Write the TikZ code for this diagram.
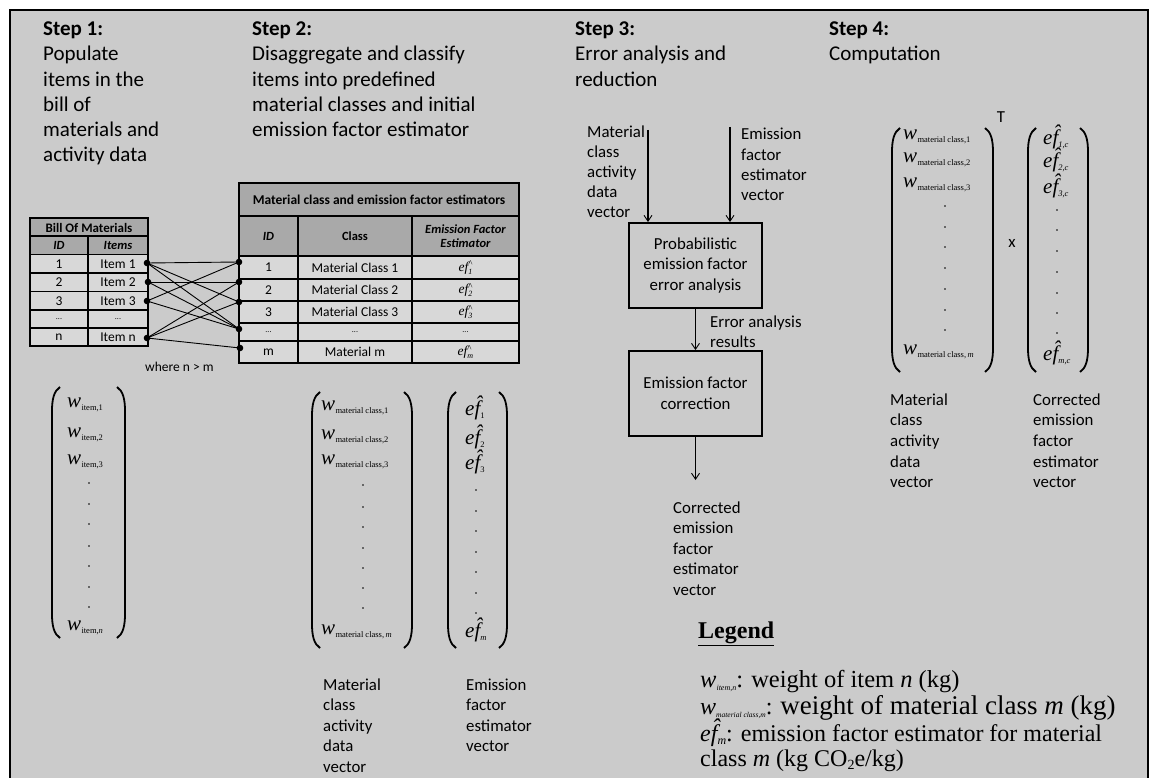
\documentclass[tikz,border=0pt]{standalone}
\usepackage{fontspec}
\setmainfont{Carlito}
\newfontfamily\serif{Liberation Serif}
\usetikzlibrary{arrows.meta}
\definecolor{bg}{HTML}{CBCBCB}
\definecolor{hdr}{HTML}{A9A9A9}
\definecolor{cell}{HTML}{D8D8D8}
\newcommand\vbrack[4]{%
  \draw[brk] (#1+8,#3) .. controls (#1+2,#3+4) and (#1,#3+12) .. (#1,#3+24) -- (#1,#4-24) .. controls (#1,#4-12) and (#1+2,#4-4) .. (#1+8,#4);
  \draw[brk] (#2-8,#3) .. controls (#2-2,#3+4) and (#2,#3+12) .. (#2,#3+24) -- (#2,#4-24) .. controls (#2,#4-12) and (#2-2,#4-4) .. (#2-8,#4);
}
\newcommand\wsub[1]{{\serif\fontsize{21}{21}\selectfont\itshape w}\kern0.3pt\raisebox{-2.5pt}{\serif\fontsize{8.5}{8.5}\selectfont #1}}
\newcommand\efh[1]{{\serif\fontsize{21}{21}\selectfont\itshape e\^{f}}\raisebox{-3pt}{\serif\fontsize{8.5}{8.5}\selectfont\itshape #1}}
\newcommand\eft[1]{{\serif\fontsize{13.5}{13.5}\selectfont\itshape ef}\rlap{\raisebox{4.5pt}{\serif\fontsize{9}{9}\selectfont\^{}}}\raisebox{-3pt}{\serif\fontsize{8}{8}\selectfont\itshape #1}}
\begin{document}
\begin{tikzpicture}[x=1pt,y=-1pt,
  hd/.style={anchor=base west, inner sep=0pt, font=\fontsize{21}{25}\selectfont},
  lb/.style={anchor=base west, inner sep=0pt, font=\fontsize{16.8}{20}\selectfont},
  tc/.style={inner sep=0pt, font=\fontsize{13.5}{15}\selectfont},
  th/.style={inner sep=0pt, font=\fontsize{13}{15}\selectfont\bfseries},
  thi/.style={inner sep=0pt, font=\fontsize{12.5}{14}\selectfont\bfseries\itshape},
  dots/.style={inner sep=0pt, font=\fontsize{8}{8}\selectfont},
  brk/.style={line width=1.8pt},
  ent/.style={anchor=west, inner sep=0pt},
  procbox/.style={draw, line width=1.8pt, minimum width=133pt, minimum height=85pt, align=center, inner sep=0pt, font=\fontsize{16.8}{20.5}\selectfont},
  arr/.style={-{Straight Barb[length=6pt,width=8pt,line width=0.9pt]}, line width=1pt},
  tharr/.style={arr, line width=1.8pt},
  cl/.style={line width=0.9pt},
  tl/.style={line width=1.6pt},
  lg/.style={anchor=base west, inner sep=0pt, font=\serif\fontsize{24}{26}\selectfont}
]
\useasboundingbox (0,0) rectangle (1154,778);
\fill[white] (0,0) rectangle (1154,778);
\draw[line width=2.5pt, fill=bg] (10,10) rectangle (1148,795);

% headers
\foreach \t [count=\i from 0] in {\textbf{Step 1:}, Populate, items in the, bill of, materials and, activity data}
  \node[hd, name=s1l\i] at (43, 35.5+\i*25.3) {\t};
\foreach \t [count=\i from 0] in {\textbf{Step 2:}, Disaggregate and classify, items into predefined, material classes and initial, emission factor estimator}
  \node[hd, name=s2l\i] at (252, 35.5+\i*25.3) {\t};
\foreach \t [count=\i from 0] in {\textbf{Step 3:}, Error analysis and, reduction}
  \node[hd, name=s3l\i] at (575, 35.5+\i*25.3) {\t};
\foreach \t [count=\i from 0] in {\textbf{Step 4:}, Computation}
  \node[hd, name=s4l\i] at (829, 35.5+\i*25.3) {\t};

% Bill of materials table
\fill[hdr] (30,218) rectangle (148,254.5);
\fill[cell] (30,254.5) rectangle (148,346);
\foreach \y in {236,254.5,273,291.5,310,328} \draw[tl] (30,\y) -- (148,\y);
\draw[tl] (88,236) -- (88,346);
\draw[tl] (30,218) rectangle (148,346);
\node[th] (bomt) at (89,227.5) {Bill Of Materials};
\node[thi] (bomid) at (59,245.5) {ID};
\node[thi] (bomit) at (118,245.5) {Items};
\node[tc] (b1a) at (59,264) {1}; \node[tc] (b1b) at (118,264) {Item 1};
\node[tc] (b2a) at (59,282.5) {2}; \node[tc] (b2b) at (118,282.5) {Item 2};
\node[tc] (b3a) at (59,301) {3}; \node[tc] (b3b) at (118,301) {Item 3};
\node[dots] (b4a) at (59,319) {...}; \node[dots] (b4b) at (118,319) {...};
\node[tc] (b5a) at (59,337) {n}; \node[tc] (b5b) at (118,337) {Item n};

% Material class table
\fill[hdr] (239,183) rectangle (519,256);
\fill[cell] (239,256) rectangle (519,363);
\foreach \y in {216,256,279,301,323,341} \draw[tl] (239,\y) -- (519,\y);
\draw[tl] (298,216) -- (298,363);
\draw[tl] (412,216) -- (412,363);
\draw[tl] (239,183) rectangle (519,363);
\node[th, font=\fontsize{13.5}{15}\selectfont\bfseries] (mtt) at (379,199.5) {Material class and emission factor estimators};
\node[thi] (mtid) at (268.5,236) {ID};
\node[th, font=\fontsize{12.5}{14}\selectfont\bfseries] (mtcl) at (355,236) {Class};
\node[thi, align=center] (mtef) at (465.5,236) {Emission Factor\\Estimator};
\node[tc] (m1a) at (268.5,267.5) {1}; \node[tc] (m1b) at (355,267.5) {Material Class 1}; \node[tc] (m1c) at (465.5,267.5) {\eft{1}};
\node[tc] (m2a) at (268.5,290) {2}; \node[tc] (m2b) at (355,290) {Material Class 2}; \node[tc] (m2c) at (465.5,290) {\eft{2}};
\node[tc] (m3a) at (268.5,312) {3}; \node[tc] (m3b) at (355,312) {Material Class 3}; \node[tc] (m3c) at (465.5,312) {\eft{3}};
\node[dots] (m4a) at (268.5,332) {...}; \node[dots] (m4b) at (355,332) {...}; \node[dots] (m4c) at (465.5,332) {...};
\node[tc] (m5a) at (268.5,352) {m}; \node[tc] (m5b) at (355,352) {Material m}; \node[tc] (m5c) at (465.5,352) {\eft{m}};

% connectors between tables
\coordinate (L1) at (147,263); \coordinate (L2) at (148,282); \coordinate (L3) at (147,301); \coordinate (Ln) at (147,338);
\coordinate (R1) at (239,262); \coordinate (R2) at (239,282); \coordinate (R3) at (239,302); \coordinate (R4) at (239,329); \coordinate (R5) at (240,348);
\draw[cl] (L1) -- (R1); \draw[cl] (L1) -- (R3); \draw[cl] (L1) -- (R4);
\draw[cl] (L2) -- (R2); \draw[cl] (L2) -- (R4);
\draw[cl] (L3) -- (R1); \draw[cl] (L3) -- (R4);
\draw[cl] (Ln) -- (R2); \draw[cl] (Ln) -- (R3); \draw[cl] (Ln) -- (R5);
\foreach \c in {L1,L2,L3,Ln,R1,R2,R3,R4,R5} \fill (\c) circle (3.3);
\node[anchor=west, inner sep=0pt, font=\fontsize{13.5}{16}\selectfont] (where) at (145,367) {where n > m};

% left vector w_item
\vbrack{52}{125}{387}{638}
\node[ent] (wi1) at (67,405) {\wsub{item,1}};
\node[ent] (wi2) at (67,435) {\wsub{item,2}};
\node[ent] (wi3) at (67,462) {\wsub{item,3}};
\foreach \y in {483,504,524,546,566,587,607} \fill (89,\y) circle (0.9);
\node[ent] (win) at (67,628) {\wsub{item,\textit{n}}};

% step 2 vectors
\vbrack{312}{412}{392}{648}
\node[ent] (wm1) at (321,408) {\wsub{material class,1}};
\node[ent] (wm2) at (321,437) {\wsub{material class,2}};
\node[ent] (wm3) at (321,462) {\wsub{material class,3}};
\foreach \y in {485,507,527,548,568,588,608} \fill (363,\y) circle (0.9);
\node[ent] (wmm) at (321,632) {\wsub{material class,\,\textit{m}}};
\vbrack{448}{507}{392}{648}
\node[ent] (e1) at (465,408) {\efh{\upshape 1}};
\node[ent] (e2) at (465,437) {\efh{\upshape 2}};
\node[ent] (e3) at (465,462) {\efh{\upshape 3}};
\foreach \y in {490,511,531,552,572,593,613} \fill (476,\y) circle (0.9);
\node[ent] (em) at (465,630) {\efh{m}};
\foreach \t [count=\i from 0] in {Material, class, activity, data, vector}
  \node[lb, name=v2a\i] at (323, 690+\i*20.5) {\t};
\foreach \t [count=\i from 0] in {Emission, factor, estimator, vector}
  \node[lb, name=v2b\i] at (466, 690+\i*20.5) {\t};

% step 3
\foreach \t [count=\i from 0] in {Material, class, activity, data, vector}
  \node[lb, name=s3a\i] at (587, 138+\i*20) {\t};
\foreach \t [count=\i from 0] in {Emission, factor, estimator, vector}
  \node[lb, name=s3b\i] at (741, 140+\i*20.3) {\t};
\node[procbox] (box1) at (695.5,265.5) {Probabilistic\\emission factor\\error analysis};
\node[procbox] (box2) at (695.5,393.5) {Emission factor\\correction};
\coordinate (a1) at (648,130);
\coordinate (a2) at (730,127);
\coordinate (a3) at (695.5,480);
\draw[tharr] (a1) -- (a1 |- box1.north);
\draw[tharr] (a2) -- (a2 |- box1.north);
\draw[arr] (box1.south) -- (box2.north);
\draw[arr] (box2.south) -- (a3);
\node[lb] (ear1) at (710,327) {Error analysis};
\node[lb] (ear2) at (710,347) {results};
\foreach \t [count=\i from 0] in {Corrected, emission, factor, estimator, vector}
  \node[lb, name=s3c\i] at (673, 513+\i*20.5) {\t};

% step 4
\vbrack{892}{993}{128}{372}
\node[ent] (w41) at (903,137) {\wsub{material class,1}};
\node[ent] (w42) at (903,160) {\wsub{material class,2}};
\node[ent] (w43) at (903,185) {\wsub{material class,3}};
\foreach \y in {206,227,247,268,289,310,330} \fill (945,\y) circle (0.9);
\node[ent] (w4m) at (903,352) {\wsub{material class,\,\textit{m}}};
\node[inner sep=0pt, font=\fontsize{16.8}{20}\selectfont] (tT) at (1001,117) {T};
\node[inner sep=0pt, font=\fontsize{16.8}{20}\selectfont] (xx) at (1012,243) {x};
\vbrack{1028}{1088}{128}{372}
\node[ent] (c1) at (1043,137) {\efh{1,c}};
\node[ent] (c2) at (1043,160) {\efh{2,c}};
\node[ent] (c3) at (1043,186) {\efh{3,c}};
\foreach \y in {210,230,251,272,293,313,333} \fill (1057,\y) circle (0.9);
\node[ent] (cm) at (1043,353) {\efh{m,c}};
\foreach \t [count=\i from 0] in {Material, class, activity, data, vector}
  \node[lb, name=v4a\i] at (890, 405+\i*20.7) {\t};
\foreach \t [count=\i from 0] in {Corrected, emission, factor, estimator, vector}
  \node[lb, name=v4b\i] at (1033, 405+\i*20.7) {\t};

% legend
\node[lg, font=\serif\fontsize{24}{26}\selectfont\bfseries] (legt) at (698,638) {\underline{Legend}};
\node[lg, font=\serif\fontsize{24.5}{26}\selectfont] (lg1) at (700,687) {{\itshape w}\raisebox{-3pt}{\fontsize{8}{8}\selectfont\itshape item,n}: weight of item {\itshape n} (kg)};
\node[lg] (lg2) at (700,714) {{\itshape w}\raisebox{-3pt}{\fontsize{7.5}{7.5}\selectfont\itshape material class,m}: {\fontsize{27}{27}\selectfont weight of material class {\itshape m} (kg)}};
\node[lg] (lg3) at (700,741) {{\itshape e\^{f}}\raisebox{-3pt}{\fontsize{12}{12}\selectfont\itshape m}: emission factor estimator for material};
\node[lg] (lg4) at (700,766) {class {\itshape m} (kg CO\raisebox{-3pt}{\fontsize{14}{14}\selectfont 2}e/kg)};
\end{tikzpicture}
\end{document}
